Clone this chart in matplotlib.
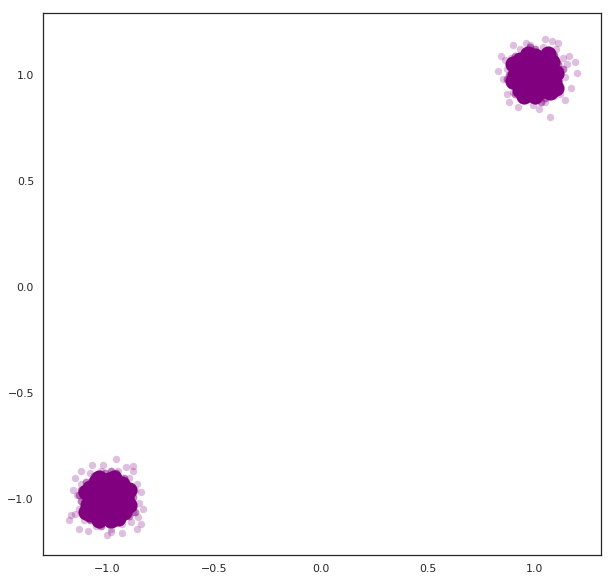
# === Two purple point clusters ===

import numpy as np
import matplotlib
matplotlib.use('Agg')
import matplotlib.pyplot as plt
import seaborn as sns

# cluster centres
centre_a = (1.0, 1.0)
centre_b = (-1.0, -1.0)

# dense core offsets from centre
core_a = [(0.00, 0.00), (0.06, 0.03), (-0.05, 0.04), (0.03, -0.06), (-0.04, -0.05),
          (0.09, -0.03), (-0.09, 0.00), (0.00, 0.09), (0.04, 0.08), (-0.07, 0.07),
          (0.08, 0.06), (-0.07, -0.07), (0.07, -0.08), (0.00, -0.10), (-0.10, -0.03),
          (0.10, 0.01), (-0.03, 0.10), (0.05, -0.03), (-0.02, 0.03), (0.02, 0.04),
          (-0.10, 0.05), (0.10, -0.06), (0.06, 0.10), (-0.05, -0.10), (-0.05, -0.01),
          (0.03, -0.01), (-0.02, -0.03), (0.05, 0.06), (-0.04, 0.07), (0.07, 0.00),
          (-0.06, 0.02), (0.02, -0.08), (-0.02, 0.06), (0.00, 0.05)]
core_b = [(0.00, 0.00), (0.05, 0.04), (-0.06, 0.03), (0.04, -0.05), (-0.03, -0.06),
          (0.09, 0.00), (-0.09, -0.03), (0.01, 0.09), (0.07, 0.07), (-0.05, 0.08),
          (0.08, -0.06), (-0.08, -0.07), (0.02, -0.10), (-0.10, 0.03), (0.10, -0.03),
          (-0.01, -0.04), (0.03, 0.03), (-0.04, 0.10), (0.05, -0.09), (-0.08, 0.05),
          (0.10, 0.04), (-0.10, -0.06), (0.03, 0.10), (-0.04, -0.10), (-0.05, -0.01),
          (0.04, -0.01), (-0.02, 0.04), (0.06, 0.02), (-0.06, -0.04), (0.00, -0.07),
          (0.02, 0.06), (-0.03, 0.06), (0.06, -0.03), (-0.07, 0.00)]

# edge ring where the overlap thins out
edge_a = [(0.12, 0.00), (0.11, 0.05), (0.09, 0.09), (0.05, 0.11), (0.00, 0.12),
          (-0.05, 0.11), (-0.09, 0.09), (-0.11, 0.05), (-0.12, 0.00), (-0.11, -0.05),
          (-0.09, -0.09), (-0.05, -0.11), (0.00, -0.12), (0.05, -0.11), (0.09, -0.09),
          (0.11, -0.05), (0.13, 0.03), (-0.02, 0.13), (-0.13, -0.02), (0.03, -0.13)]
edge_b = [(0.12, 0.01), (0.10, 0.06), (0.08, 0.10), (0.04, 0.12), (-0.01, 0.12),
          (-0.06, 0.11), (-0.10, 0.08), (-0.12, 0.04), (-0.12, -0.01), (-0.11, -0.06),
          (-0.08, -0.10), (-0.04, -0.12), (0.01, -0.12), (0.06, -0.11), (0.10, -0.08),
          (0.12, -0.04), (0.13, -0.06), (-0.13, 0.02), (0.02, 0.13), (-0.03, -0.13)]

# loose halo offsets, including the outliers
halo_a = [(0.09, 0.05), (-0.09, 0.05), (0.09, -0.05), (-0.09, -0.05), (0.05, 0.09),
          (-0.05, 0.09), (0.05, -0.09), (-0.05, -0.09), (0.10, 0.00), (-0.10, 0.00),
          (0.00, 0.10), (0.00, -0.10), (0.12, 0.03), (0.11, -0.05), (0.13, 0.08),
          (0.09, 0.10), (0.04, 0.13), (-0.02, 0.14), (-0.07, 0.12), (-0.11, 0.08),
          (-0.13, 0.03), (-0.12, -0.03), (-0.10, -0.08), (-0.06, -0.12), (-0.01, -0.14),
          (0.05, -0.13), (0.09, -0.10), (0.14, -0.01), (0.15, 0.05), (0.10, 0.12),
          (-0.04, 0.15), (-0.14, 0.07), (-0.13, -0.09), (0.02, -0.16), (0.12, -0.09),
          (0.05, 0.17), (0.07, -0.20), (-0.15, -0.02), (0.20, 0.01), (0.19, 0.06),
          (-0.17, 0.02), (0.17, -0.06), (-0.08, -0.15), (0.11, 0.15), (-0.10, 0.14),
          (0.16, 0.09), (-0.12, -0.13), (0.08, 0.16), (0.14, -0.12), (-0.16, 0.09)]
halo_b = [(0.09, 0.04), (-0.09, 0.06), (0.08, -0.06), (-0.10, -0.04), (0.04, 0.10),
          (-0.06, 0.09), (0.06, -0.09), (-0.04, -0.10), (0.11, 0.01), (-0.11, -0.01),
          (0.01, 0.11), (-0.01, -0.11), (0.13, 0.04), (0.12, -0.06), (0.10, 0.10),
          (0.05, 0.13), (-0.03, 0.13), (-0.08, 0.12), (-0.12, 0.07), (-0.14, 0.02),
          (-0.13, -0.05), (-0.11, -0.10), (-0.05, -0.13), (0.02, -0.14), (0.07, -0.12),
          (0.11, -0.11), (0.15, -0.02), (0.14, 0.07), (-0.16, 0.04), (-0.15, -0.07),
          (0.04, 0.19), (0.12, 0.155), (0.09, 0.15), (-0.168, -0.075), (0.145, -0.085),
          (0.02, -0.155), (0.07, -0.16), (-0.09, -0.15), (-0.18, -0.10), (-0.12, 0.13),
          (0.16, 0.03), (-0.02, 0.16), (0.14, -0.14), (-0.15, 0.10), (0.17, -0.05),
          (0.00, -0.17), (-0.07, 0.16), (0.12, 0.13), (0.16, -0.12), (-0.13, -0.14)]

sns.set_style('white')

# figure with axes placed to the pixel
fig = plt.figure(figsize=(614 / 72, 583 / 72), dpi=72)
ax = fig.add_axes([43 / 614, 28 / 583, 558 / 614, 542 / 583])

clusters = [(centre_a, core_a, edge_a, halo_a), (centre_b, core_b, edge_b, halo_b)]
for centre, core, edge, halo in clusters:
    c = np.array(core) + centre
    e = np.array(edge) + centre
    h = np.array(halo) + centre
    ax.scatter(h[:, 0], h[:, 1], s=55, color='purple', alpha=0.25, linewidths=0)
    ax.scatter(e[:, 0], e[:, 1], s=60, color='purple', alpha=0.5, linewidths=0)
    ax.scatter(c[:, 0], c[:, 1], s=260, color='purple', alpha=1.0, linewidths=0)

ax.set_xlim(-1.30, 1.31)
ax.set_ylim(-1.265, 1.292)
ax.set_xticks([-1.0, -0.5, 0.0, 0.5, 1.0])
ax.set_yticks([-1.0, -0.5, 0.0, 0.5, 1.0])
ax.tick_params(labelsize=11, colors='.15', length=0, pad=9)
for s in ax.spines.values():
    s.set_color('.15')
    s.set_linewidth(1.25)

plt.savefig('out.png', dpi=72)
plt.close()
